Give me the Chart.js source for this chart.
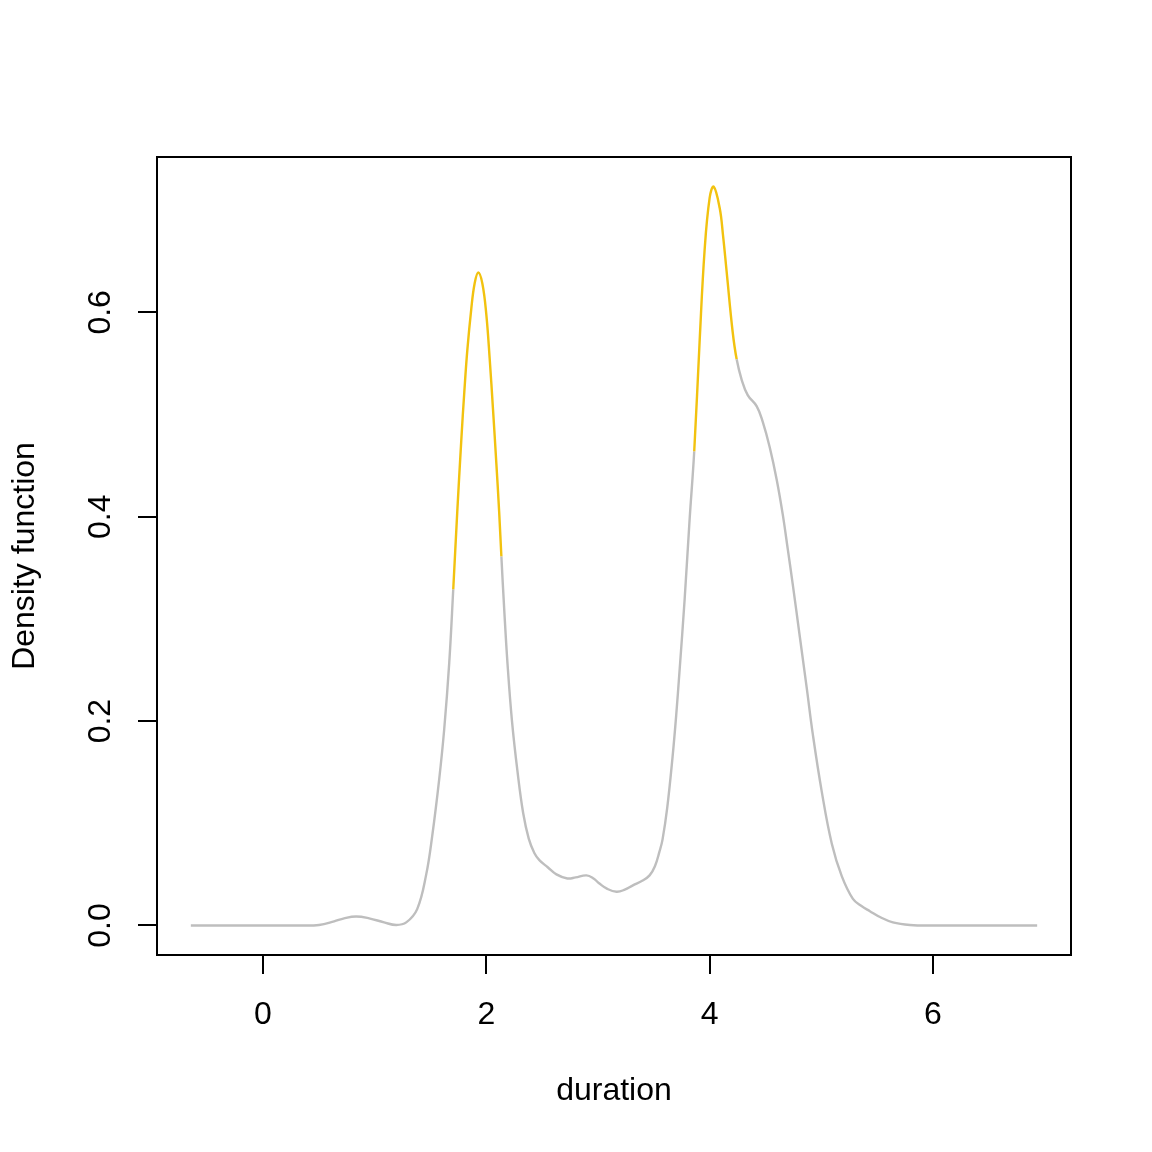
<!DOCTYPE html>
<html>
<head>
<meta charset="utf-8">
<script src="https://cdn.jsdelivr.net/npm/chart.js@4/dist/chart.umd.min.js"></script>
<style>
  body { margin: 0; background: #fff; }
  canvas { display: block; }
</style>
</head>
<body>
<canvas id="densityChart" width="1152" height="1152"></canvas>
<script>
// density curve
const duration = [-0.646, -0.126, 0.323, 0.502, 0.637, 0.726, 0.834, 0.951, 1.085, 1.193,
  1.283, 1.381, 1.462, 1.516, 1.578, 1.623, 1.668, 1.704, 1.740, 1.776, 1.803, 1.830, 1.865,
  1.895, 1.928, 1.965, 2.000, 2.030, 2.060, 2.090, 2.115, 2.135, 2.160, 2.190, 2.230, 2.280,
  2.330, 2.380, 2.430, 2.475, 2.550, 2.628, 2.726, 2.800, 2.897, 2.960, 3.013, 3.080, 3.166,
  3.240, 3.309, 3.400, 3.462, 3.510, 3.550, 3.578, 3.620, 3.668, 3.700, 3.731, 3.776, 3.821,
  3.862, 3.910, 3.955, 4.000, 4.036, 4.090, 4.120, 4.152, 4.206, 4.242, 4.287, 4.341, 4.422,
  4.475, 4.538, 4.601, 4.655, 4.700, 4.744, 4.807, 4.870, 4.924, 5.004, 5.094, 5.184, 5.283,
  5.360, 5.435, 5.530, 5.641, 5.794, 6.000, 6.933];
const density = [0, 0, 0, 0.0005, 0.004, 0.007, 0.0088, 0.007, 0.003, 0.0005,
  0.003, 0.016, 0.050, 0.088, 0.143, 0.192, 0.257, 0.329, 0.405, 0.475, 0.522, 0.563, 0.603,
  0.628, 0.639, 0.628, 0.598, 0.555, 0.505, 0.452, 0.405, 0.361, 0.310, 0.256, 0.200, 0.150,
  0.110, 0.085, 0.071, 0.064, 0.057, 0.050, 0.046, 0.047, 0.049, 0.046, 0.041, 0.036, 0.033,
  0.035, 0.039, 0.044, 0.049, 0.058, 0.072, 0.084, 0.115, 0.165, 0.205, 0.250, 0.319, 0.398,
  0.464, 0.571, 0.661, 0.712, 0.723, 0.702, 0.675, 0.640, 0.581, 0.554, 0.534, 0.519, 0.508,
  0.493, 0.468, 0.436, 0.402, 0.368, 0.334, 0.283, 0.232, 0.187, 0.131, 0.080, 0.048, 0.026,
  0.019, 0.014, 0.008, 0.003, 0.0005, 0, 0];

// highlighted stretches of the curve (gold)
const goldFrom = [1.704, 3.862];
const goldTo = [2.135, 4.242];

const xTicks = [0, 2, 4, 6];
const yTicks = [0, 0.2, 0.4, 0.6];
const yTickLabels = ['0.0', '0.2', '0.4', '0.6'];

const xTitle = 'duration';
const yTitle = 'Density function';

const grey = '#bebebe';
const gold = '#f2c20f';
const font = '32px "Liberation Sans", Arial, sans-serif';

const curve = duration.map((x, i) => ({ x: x, y: density[i] }));

function inGold(x) {
  for (let k = 0; k < goldFrom.length; k++) {
    if (x >= goldFrom[k] - 1e-9 && x <= goldTo[k] + 1e-9) return true;
  }
  return false;
}

// R style box, ticks and labels, placed with the chart's own scales
const rAxes = {
  id: 'rAxes',
  afterDraw(chart) {
    const ctx = chart.ctx;
    const area = chart.chartArea;
    const xs = chart.scales.x;
    const ys = chart.scales.y;
    ctx.save();
    ctx.strokeStyle = '#000';
    ctx.fillStyle = '#000';
    ctx.lineWidth = 2;
    ctx.strokeRect(area.left, area.top, area.right - area.left, area.bottom - area.top);

    ctx.font = font;
    ctx.textAlign = 'center';
    ctx.textBaseline = 'middle';

    // x axis
    ctx.beginPath();
    xTicks.forEach(v => {
      const px = Math.round(xs.getPixelForValue(v));
      ctx.moveTo(px, area.bottom);
      ctx.lineTo(px, area.bottom + 19);
    });
    ctx.stroke();
    xTicks.forEach(v => {
      ctx.fillText(String(v), xs.getPixelForValue(v), 1015);
    });
    ctx.fillText(xTitle, (area.left + area.right) / 2, 1091);

    // y axis
    ctx.beginPath();
    yTicks.forEach(v => {
      const py = Math.round(ys.getPixelForValue(v));
      ctx.moveTo(area.left, py);
      ctx.lineTo(area.left - 19, py);
    });
    ctx.stroke();
    yTicks.forEach((v, i) => {
      ctx.save();
      ctx.translate(101, ys.getPixelForValue(v));
      ctx.rotate(-Math.PI / 2);
      ctx.fillText(yTickLabels[i], 0, 0);
      ctx.restore();
    });
    ctx.save();
    ctx.translate(25, (area.top + area.bottom) / 2);
    ctx.rotate(-Math.PI / 2);
    ctx.fillText(yTitle, 0, 0);
    ctx.restore();

    ctx.restore();
  }
};

new Chart(document.getElementById('densityChart').getContext('2d'), {
  type: 'line',
  data: {
    datasets: [
      {
        label: 'density',
        data: curve,
        borderColor: grey,
        borderWidth: 2.4,
        pointRadius: 0,
        tension: 0.4,
        fill: false,
        segment: {
          borderColor: c => (inGold(c.p0.parsed.x) && inGold(c.p1.parsed.x)) ? gold : grey
        }
      }
    ]
  },
  options: {
    responsive: false,
    animation: false,
    devicePixelRatio: 1,
    layout: { padding: { left: 157, top: 157, right: 81, bottom: 197 } },
    plugins: { legend: { display: false }, tooltip: { enabled: false } },
    scales: {
      x: { type: 'linear', min: -0.949, max: 7.236, display: false },
      y: { type: 'linear', min: -0.0289, max: 0.752, display: false }
    }
  },
  plugins: [rAxes]
});
</script>
</body>
</html>
